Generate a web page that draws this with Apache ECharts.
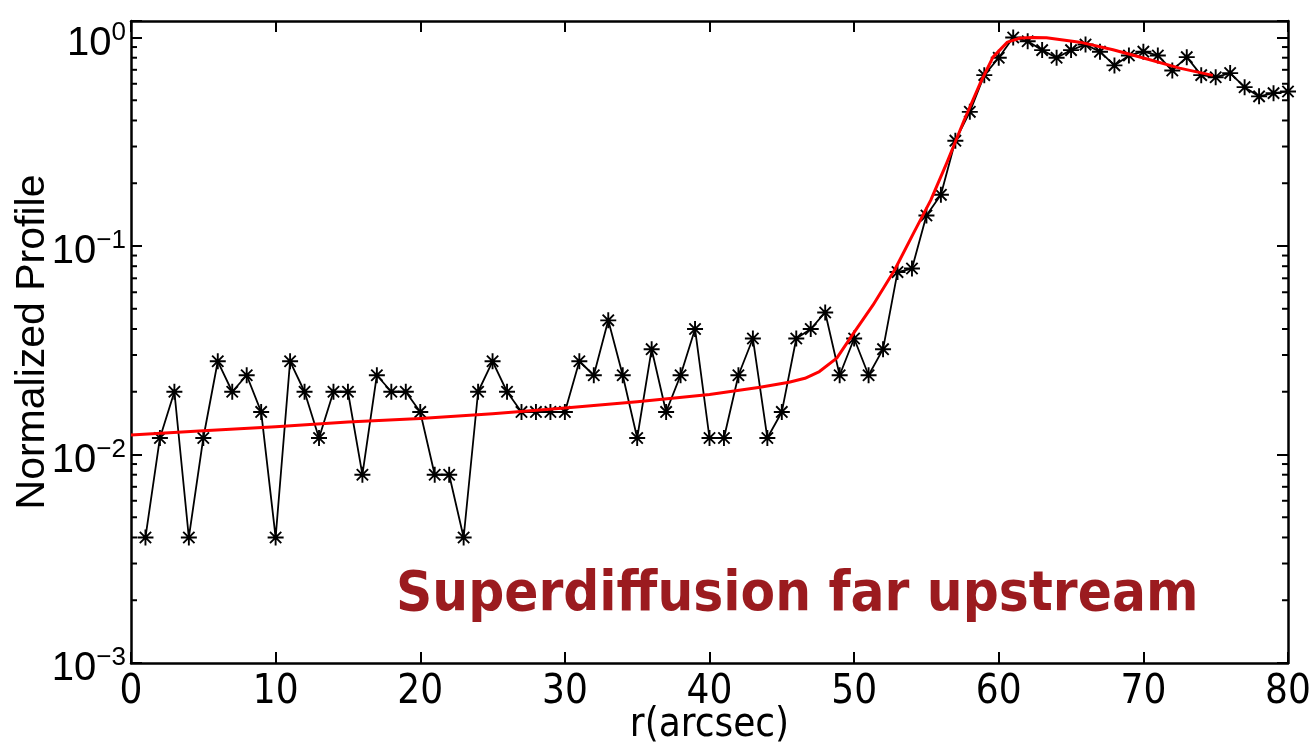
<!DOCTYPE html>
<html>
<head>
<meta charset="utf-8">
<script src="https://cdn.jsdelivr.net/npm/echarts@6/dist/echarts.min.js"></script>
<style>
html,body{margin:0;padding:0;background:#fff;}
#chart{width:1309px;height:742px;}
</style>
</head>
<body>
<div id="chart"></div>
<script>
// Observed profile (r in arcsec, normalized profile)
const radius = [1,2,3,4,5,6,7,8,9,10,11,12,13,14,15,16,17,18,19,20,21,22,23,24,25,26,27,28,29,30,31,32,33,34,35,36,37,38,39,40,41,42,43,44,45,46,47,48,49,50,51,52,53,54,55,56,57,58,59,60,61,62,63,64,65,66,67,68,69,70,71,72,73,74,75,76,77,78,79,80];
const profile = [0.004,0.012,0.020,0.004,0.012,0.028,0.020,0.024,0.016,0.004,
                 0.028,0.020,0.012,0.020,0.020,0.008,0.024,0.020,0.020,0.016,
                 0.008,0.008,0.004,0.020,0.028,0.020,0.016,0.016,0.016,0.016,
                 0.028,0.024,0.044,0.024,0.012,0.032,0.016,0.024,0.040,0.012,
                 0.012,0.024,0.036,0.012,0.016,0.036,0.040,0.048,0.024,0.036,
                 0.024,0.032,0.075,0.078,0.140,0.176,0.320,0.440,0.660,0.800,
                 1.000,0.960,0.870,0.800,0.870,0.925,0.855,0.735,0.820,0.855,
                 0.820,0.695,0.805,0.660,0.645,0.675,0.578,0.522,0.541,0.551];

// Superdiffusion model fit (red curve)
const fitR = [0,5,10,15,20,25,30,35,40,43.5,45.5,46.6,47.6,48.8,50,51.3,52.8,54.1,55.3,56.4,57.6,58.7,59.6,60.6,61.5,62.4,63.3,65.6,67.9,70.2,72.5,74.8];
const fitV = [0.0124,0.0130,0.0136,0.0143,0.0149,0.0157,0.0167,0.0179,0.0194,0.0210,0.0222,0.0232,0.0250,0.0290,0.0385,0.0520,0.0767,0.115,0.166,0.250,0.400,0.600,0.805,0.950,0.995,1.000,0.997,0.950,0.873,0.791,0.713,0.658];

// Axis settings
const xMin = 0, xMax = 80, xStep = 10;
const yMin = 0.001, yMax = 1.2;
const minorTickValues = [0.002,0.003,0.004,0.005,0.006,0.007,0.008,0.009,
                         0.02,0.03,0.04,0.05,0.06,0.07,0.08,0.09,
                         0.2,0.3,0.4,0.5,0.6,0.7,0.8,0.9];
const xName = 'r(arcsec)';
const yName = 'Normalized Profile';
const annotation = 'Superdiffusion far upstream';

const NARROW = "'Liberation Sans Narrow','DejaVu Sans Condensed','Liberation Sans',sans-serif";
const SANS = "'Liberation Sans',Arial,sans-serif";

const chart = echarts.init(document.getElementById('chart'), null, {renderer:'canvas'});

function yFmt(v){
  const e = Math.log10(v);
  const n = Math.round(e);
  if (Math.abs(e - n) > 1e-6) return '';
  const s = n < 0 ? '\u2212' + Math.abs(n) : String(n);
  return '{b|10}{s|' + s + '}';
}

const axisLineStyle = {show:true, onZero:false, lineStyle:{color:'#000', width:2.5}};
const tickStyle = {show:true, inside:true, length:11, lineStyle:{color:'#000', width:2}};

const asterisk = 'path://M0,-10L0,10M-10,0L10,0M-7.07,-7.07L7.07,7.07M-7.07,7.07L7.07,-7.07';

const option = {
  animation:false,
  backgroundColor:'#fff',
  grid:{left:131, right:21, top:21, bottom:79, containLabel:false, outerBoundsMode:'none'},
  xAxis:[{
    type:'value', min:xMin, max:xMax, interval:xStep, position:'bottom',
    axisLine:axisLineStyle, axisTick:tickStyle, splitLine:{show:false},
    axisLabel:{color:'#000', fontFamily:NARROW, fontSize:40, margin:10},
    name:xName, nameLocation:'middle', nameGap:43, nameMoveOverlap:false,
    nameTextStyle:{color:'#000', fontFamily:NARROW, fontSize:40}
  },{
    type:'value', min:xMin, max:xMax, interval:xStep, position:'top',
    axisLine:axisLineStyle, axisTick:tickStyle, splitLine:{show:false},
    axisLabel:{show:false}
  }],
  yAxis:[{
    type:'log', logBase:10, min:yMin, max:yMax, position:'left',
    axisLine:axisLineStyle, axisTick:tickStyle, splitLine:{show:false}, minorTick:{show:false},
    axisLabel:{
      color:'#000', margin:5, formatter:yFmt,
      rich:{
        b:{fontFamily:SANS, fontSize:40, lineHeight:48, padding:[12,0,0,0], color:'#000'},
        s:{fontFamily:SANS, fontSize:26, lineHeight:30, padding:[6,0,0,0], verticalAlign:'top', color:'#000'}
      }
    },
    name:yName, nameLocation:'middle', nameGap:78, nameRotate:90, nameMoveOverlap:false,
    nameTextStyle:{color:'#000', fontFamily:SANS, fontSize:41}
  },{
    type:'log', logBase:10, min:yMin, max:yMax, position:'right',
    axisLine:axisLineStyle, axisTick:tickStyle, splitLine:{show:false}, minorTick:{show:false},
    axisLabel:{show:false}
  }],
  graphic:[{
    type:'text', left:396, top:567,
    style:{text:annotation, fill:'#9b1b1f', font:"bold 56px 'DejaVu Sans Condensed','DejaVu Sans',sans-serif"}
  }],
  series:[{
    type:'custom', name:'minorTicks', coordinateSystem:'cartesian2d', xAxisIndex:0, yAxisIndex:0,
    silent:true, clip:false, encode:{x:0, y:1},
    data:minorTickValues.map(v => [xMin, v]),
    renderItem:function(params, api){
      const y = api.coord([api.value(0), api.value(1)])[1];
      const cs = params.coordSys;
      return {type:'group', children:[
        {type:'line', shape:{x1:cs.x, y1:y, x2:cs.x+6, y2:y}, style:{stroke:'#000', lineWidth:2}},
        {type:'line', shape:{x1:cs.x+cs.width-6, y1:y, x2:cs.x+cs.width, y2:y}, style:{stroke:'#000', lineWidth:2}}
      ]};
    }
  },{
    type:'line', name:'profile', xAxisIndex:0, yAxisIndex:0,
    data:radius.map((r,i) => [r, profile[i]]),
    symbol:asterisk, symbolSize:16, showSymbol:true, showAllSymbol:true,
    lineStyle:{color:'#000', width:1.8},
    itemStyle:{color:'#000', borderColor:'#000', borderWidth:1.9},
    z:3
  },{
    type:'line', name:'fit', xAxisIndex:0, yAxisIndex:0,
    data:fitR.map((r,i) => [r, fitV[i]]),
    symbol:'none', smooth:false,
    lineStyle:{color:'#ff0000', width:3, join:'round'},
    z:4
  }]
};
chart.setOption(option);
</script>
</body>
</html>
